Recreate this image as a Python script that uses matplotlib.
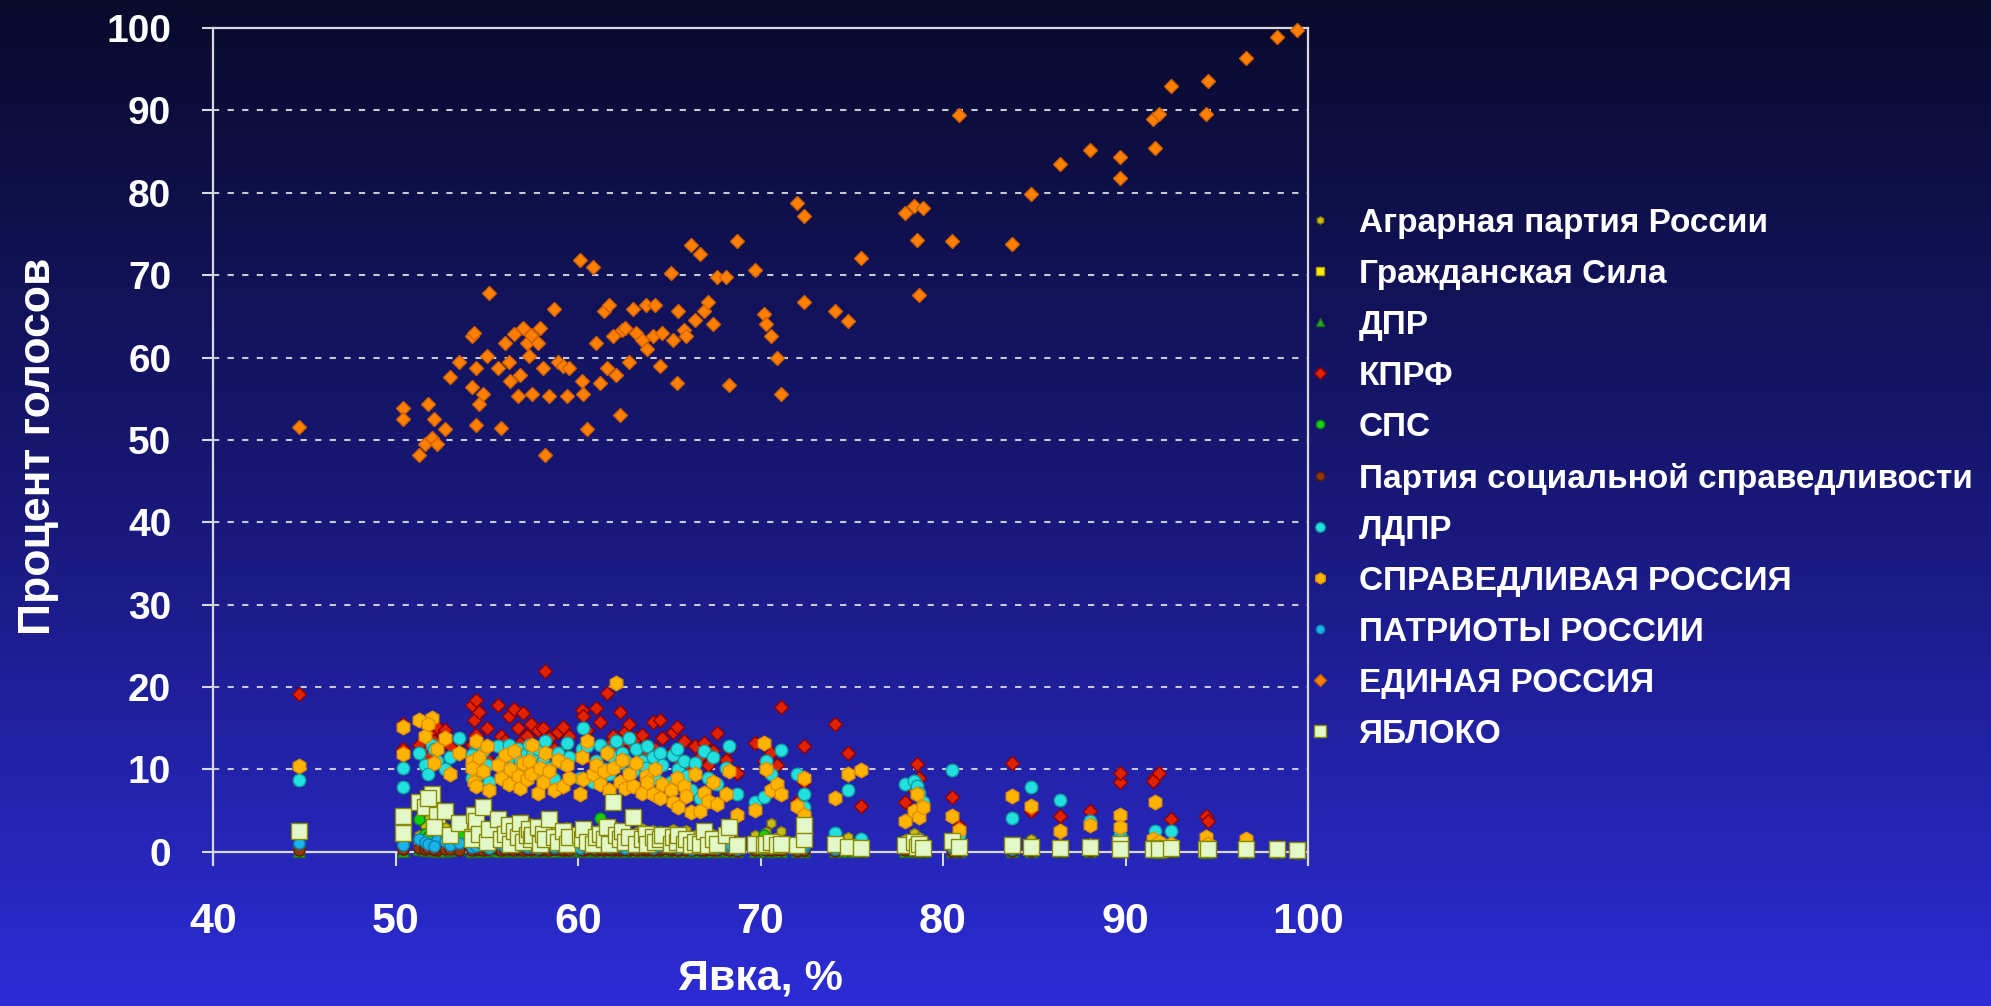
import numpy as np
import matplotlib
matplotlib.use('Agg')
import matplotlib.pyplot as plt
from matplotlib.colors import LinearSegmentedColormap

plt.rcParams['font.family'] = ['Liberation Sans', 'DejaVu Sans']
plt.rcParams['font.weight'] = 'bold'

# явка по регионам, %
turnout = [44.7, 50.4, 50.4, 51.3, 51.6, 52.0, 52.3, 51.8, 52.1, 52.7,
           53.0, 53.5, 54.2, 54.3, 54.4, 54.2, 54.4, 54.6, 54.8, 55.0,
           55.1, 55.6, 55.8, 56.0, 56.2, 56.3, 56.5, 56.7, 56.8, 57.0,
           57.2, 57.3, 57.4, 57.5, 57.8, 57.9, 58.1, 58.2, 58.4, 58.7,
           58.9, 59.2, 59.4, 59.5, 60.1, 60.2, 60.3, 60.5, 60.8, 61.0,
           61.2, 61.4, 61.6, 61.7, 61.9, 62.1, 62.3, 62.4, 62.6, 62.8,
           63.0, 63.2, 63.5, 63.7, 63.8, 64.1, 64.2, 64.5, 64.6, 65.1,
           65.2, 65.4, 65.5, 65.8, 65.9, 66.2, 66.4, 66.7, 66.9, 67.1,
           67.4, 67.6, 68.1, 68.3, 68.7, 69.7, 70.2, 70.3, 70.6, 70.9,
           71.1, 72.0, 72.4, 72.4, 74.1, 74.8, 75.5, 77.9, 78.4, 78.6,
           78.7, 78.9, 80.5, 80.9, 83.8, 84.8, 86.4, 88.05, 89.7, 89.7,
           91.6, 91.5, 91.85, 92.5, 94.4, 94.5, 96.6, 98.3, 99.4]

agrar = [0.5, 2.8, 3.5, 2.0, 3.2, 1.8, 2.5, 4.0, 2.2, 3.0,
         1.5, 2.6, 3.3, 1.8, 2.9, 2.1, 3.6, 1.4, 2.4, 3.1,
         1.9, 2.7, 1.6, 3.4, 2.0, 2.8, 1.5, 3.0, 2.3, 1.7,
         2.9, 2.2, 3.5, 1.8, 2.6, 2.0, 3.2, 1.6, 2.4, 2.9,
         1.8, 2.5, 3.0, 2.1, 1.5, 2.7, 2.0, 3.1, 1.6, 2.3,
         2.8, 1.9, 2.5, 1.4, 2.2, 3.0, 2.0, 1.7, 2.6, 2.1,
         1.8, 2.4, 2.9, 1.5, 2.2, 2.7, 1.9, 2.5, 1.6, 2.0,
         2.8, 1.7, 2.3, 1.5, 2.6, 1.2, 2.1, 1.6, 2.4, 1.8,
         2.2, 1.5, 2.7, 1.9, 1.3, 2.0, 1.6, 2.4, 3.5, 1.8,
         2.5, 1.4, 2.0, 1.6, 2.2, 1.8, 1.2, 1.5, 2.3, 1.1,
         1.8, 1.4, 1.0, 0.8, 1.2, 1.5, 0.9, 1.1, 0.8, 1.6,
         1.2, 0.8, 1.0, 0.6, 0.7, 0.5, 0.4, 0.2, 0.1]

grazhd = [0.4, 0.8, 0.6, 1.0, 0.7, 0.9, 0.5, 1.2, 0.8, 0.6,
          1.1, 0.7, 0.9, 0.5, 0.8, 1.0, 0.6, 0.7, 0.9, 0.5,
          0.8, 0.6, 1.0, 0.7, 0.5, 0.9, 0.6, 0.8, 0.7, 3.9,
          0.6, 0.8, 0.5, 0.9, 0.7, 0.6, 0.6, 0.8, 0.5, 0.7,
          0.9, 0.6, 0.8, 0.5, 0.7, 0.6, 0.9, 0.5, 0.8, 0.6,
          0.7, 0.5, 0.8, 0.6, 0.9, 0.5, 0.7, 0.6, 0.8, 0.5,
          0.6, 0.7, 0.5, 0.8, 0.6, 0.4, 0.7, 0.5, 0.6, 0.4,
          0.5, 0.7, 0.4, 0.6, 0.5, 0.3, 0.6, 0.4, 0.5, 0.4,
          0.6, 0.4, 0.5, 0.7, 0.3, 0.4, 0.5, 0.3, 0.6, 0.4,
          0.5, 0.3, 0.4, 0.5, 0.3, 0.4, 0.2, 0.3, 0.4, 0.3,
          0.3, 0.2, 0.3, 0.2, 0.3, 0.2, 0.2, 0.3, 0.2, 0.2,
          0.2, 0.1, 0.1, 0.2, 0.1, 0.1, 0.1, 0.1, 0.0]

dpr = [0.1, 0.2, 0.1, 0.3, 0.2, 0.2, 0.1, 0.3, 0.2, 0.1,
       0.2, 0.3, 0.1, 0.2, 0.2, 0.1, 0.3, 0.2, 0.1, 0.2,
       0.2, 0.1, 0.3, 0.2, 0.1, 0.2, 0.2, 0.1, 0.3, 0.2,
       0.1, 0.2, 0.2, 0.1, 0.3, 0.2, 0.1, 0.2, 0.2, 0.1,
       0.3, 0.2, 0.1, 0.2, 0.2, 0.1, 0.2, 0.3, 0.1, 0.2,
       0.2, 0.1, 0.2, 0.1, 0.2, 0.2, 0.1, 0.2, 0.1, 0.2,
       0.2, 0.1, 0.2, 0.1, 0.2, 0.1, 0.2, 0.1, 0.2, 0.1,
       0.2, 0.1, 0.1, 0.2, 0.1, 0.1, 0.2, 0.1, 0.1, 0.2,
       0.1, 0.1, 0.2, 0.1, 0.1, 0.1, 0.2, 0.1, 0.1, 0.2,
       0.1, 0.1, 0.1, 0.2, 0.1, 0.1, 0.1, 0.1, 0.2, 0.1,
       0.1, 0.1, 0.1, 0.1, 0.1, 0.1, 0.1, 0.1, 0.1, 0.1,
       0.1, 0.1, 0.0, 0.1, 0.0, 0.1, 0.0, 0.0, 0.0]

kprf = [19.2, 15.5, 12.5, 13.0, 12.0, 14.5, 15.2, 11.5, 13.5, 14.8,
        12.8, 13.5, 17.8, 16.0, 18.4, 13.0, 14.2, 17.0, 12.5, 15.0,
        11.0, 17.8, 14.0, 13.5, 16.5, 12.8, 17.3, 15.0, 13.2, 16.8,
        14.0, 12.0, 15.5, 13.0, 14.8, 11.5, 15.0, 22.0, 13.8, 12.5,
        14.5, 15.2, 13.0, 14.0, 12.0, 17.2, 16.5, 14.8, 11.0, 17.5,
        15.8, 12.5, 19.3, 13.0, 14.0, 12.2, 17.0, 13.5, 14.5, 15.5,
        12.8, 13.8, 14.2, 11.8, 13.0, 15.8, 12.5, 16.0, 13.8, 12.0,
        14.5, 15.2, 11.2, 13.5, 11.0, 10.0, 12.8, 11.5, 13.2, 10.5,
        12.2, 14.4, 11.2, 12.6, 9.6, 13.2, 11.0, 9.8, 12.0, 10.5,
        17.6, 6.1, 8.5, 12.8, 15.5, 12.0, 5.6, 6.0, 7.5, 10.6,
        9.0, 6.0, 6.6, 3.1, 10.8, 5.0, 4.4, 4.9, 8.5, 9.6,
        9.1, 8.6, 9.6, 4.0, 4.4, 3.7, 1.2, 0.6, 0.1]

sps = [0.6, 1.5, 1.0, 4.0, 2.2, 1.4, 3.0, 1.8, 2.5, 1.2,
       1.6, 2.0, 1.1, 2.8, 1.5, 1.0, 2.2, 1.3, 1.8, 0.9,
       1.5, 2.4, 1.2, 1.0, 1.8, 1.4, 2.0, 3.2, 1.1, 1.6,
       0.9, 1.3, 1.7, 1.0, 2.1, 1.2, 0.8, 1.5, 1.1, 1.9,
       1.0, 1.4, 0.8, 1.6, 1.2, 0.9, 1.3, 1.0, 0.8, 1.5,
       4.1, 1.1, 0.9, 1.4, 1.0, 1.2, 0.8, 1.3, 1.0, 0.9,
       1.2, 0.8, 1.1, 0.9, 1.0, 0.7, 1.2, 0.8, 1.0, 0.7,
       0.9, 1.1, 0.7, 0.8, 1.0, 0.6, 0.9, 0.7, 0.8, 0.6,
       0.9, 0.7, 0.8, 1.0, 0.5, 0.7, 2.0, 0.8, 0.6, 0.7,
       0.8, 0.5, 0.7, 0.9, 0.5, 0.6, 0.4, 0.6, 0.7, 0.5,
       0.6, 0.4, 0.5, 0.3, 0.5, 0.4, 0.3, 0.4, 0.3, 0.4,
       0.3, 0.2, 0.2, 0.3, 0.2, 0.2, 0.1, 0.1, 0.0]

pss = [0.2, 0.4, 0.3, 0.5, 0.3, 0.4, 0.2, 0.5, 0.3, 0.4,
       0.3, 0.2, 0.4, 0.3, 0.5, 0.2, 0.3, 0.4, 0.2, 0.3,
       0.4, 0.3, 0.2, 0.4, 0.3, 0.5, 0.2, 0.3, 0.4, 0.2,
       0.3, 0.4, 0.2, 0.3, 0.5, 0.2, 0.3, 0.4, 0.2, 0.3,
       0.4, 0.2, 0.3, 0.2, 0.4, 0.3, 0.2, 0.3, 0.4, 0.2,
       0.3, 0.2, 0.4, 0.3, 0.2, 0.3, 0.2, 0.4, 0.3, 0.2,
       0.3, 0.2, 0.3, 0.2, 0.4, 0.2, 0.3, 0.2, 0.3, 0.2,
       0.3, 0.2, 0.2, 0.3, 0.2, 0.2, 0.3, 0.2, 0.2, 0.3,
       0.2, 0.2, 0.3, 0.2, 0.1, 0.2, 0.3, 0.2, 0.2, 0.3,
       0.2, 0.1, 0.2, 0.2, 0.1, 0.2, 0.1, 0.2, 0.2, 0.1,
       0.2, 0.1, 0.1, 0.1, 0.1, 0.1, 0.1, 0.1, 0.1, 0.1,
       0.1, 0.1, 0.1, 0.1, 0.1, 0.1, 0.0, 0.0, 0.0]

ldpr = [8.7, 10.2, 7.9, 12.0, 10.5, 13.0, 11.0, 9.5, 12.5, 10.0,
        11.5, 13.8, 9.0, 12.0, 10.8, 11.8, 13.2, 9.5, 12.2, 10.5,
        8.5, 12.8, 11.0, 9.8, 13.0, 11.5, 10.0, 12.5, 11.2, 9.2,
        12.0, 13.0, 10.5, 11.8, 12.5, 9.5, 11.0, 13.5, 10.2, 8.8,
        12.0, 10.8, 13.2, 11.5, 9.0, 12.5, 15.0, 12.8, 8.5, 11.0,
        13.0, 10.0, 12.2, 9.5, 11.5, 13.5, 10.8, 12.0, 11.2, 13.8,
        9.8, 12.5, 11.0, 10.2, 12.8, 11.5, 9.0, 12.0, 10.5, 8.5,
        11.8, 12.5, 10.0, 11.0, 9.2, 7.5, 10.8, 6.5, 12.2, 9.0,
        11.5, 8.2, 10.2, 12.8, 7.0, 6.1, 6.7, 11.0, 9.5, 7.8,
        12.3, 9.5, 7.0, 5.5, 2.3, 7.5, 1.6, 8.2, 8.6, 8.0,
        7.2, 6.0, 9.9, 2.0, 4.1, 7.9, 6.3, 3.8, 2.0, 1.5,
        2.5, 1.2, 0.8, 2.5, 0.8, 0.6, 0.5, 0.2, 0.1]

sr = [10.4, 15.2, 11.9, 16.0, 14.0, 16.2, 12.5, 15.5, 10.8, 13.8,
      9.5, 12.0, 11.0, 8.5, 13.5, 10.2, 8.0, 11.5, 9.8, 12.8,
      7.5, 10.5, 9.0, 11.8, 8.2, 10.0, 12.2, 9.2, 7.8, 10.8,
      8.8, 11.0, 9.5, 13.0, 7.2, 10.2, 8.5, 12.0, 9.8, 7.5,
      11.2, 8.0, 10.5, 9.0, 7.0, 11.5, 8.8, 13.5, 9.5, 10.5,
      8.2, 9.8, 12.0, 7.5, 10.2, 20.5, 8.5, 11.2, 7.8, 9.5,
      8.0, 10.8, 7.2, 9.2, 8.5, 7.0, 10.0, 6.5, 8.2, 7.5,
      6.0, 9.0, 5.5, 8.0, 6.8, 4.8, 9.5, 5.0, 7.2, 6.2,
      8.5, 5.8, 7.0, 9.8, 4.5, 5.1, 13.2, 10.0, 7.5, 8.2,
      7.0, 5.6, 4.5, 9.0, 6.5, 9.5, 9.9, 3.8, 5.0, 7.0,
      4.2, 5.5, 4.4, 2.6, 6.8, 5.6, 2.5, 3.3, 4.5, 3.0,
      6.0, 1.5, 1.2, 1.0, 1.8, 1.0, 1.5, 0.4, 0.1]

patriots = [1.1, 1.1, 0.8, 1.5, 1.2, 0.9, 1.4, 1.0, 0.7, 1.3,
            0.8, 1.1, 0.6, 1.0, 0.9, 1.3, 0.7, 1.2, 0.8, 1.0,
            0.5, 1.1, 0.9, 0.6, 1.2, 0.8, 1.0, 0.7, 1.3, 0.9,
            0.6, 1.1, 0.8, 1.0, 0.5, 0.9, 1.2, 0.7, 1.0, 0.6,
            0.8, 1.1, 0.9, 0.7, 0.5, 1.0, 0.8, 1.2, 0.6, 0.9,
            0.7, 1.0, 0.8, 0.6, 1.1, 0.9, 0.7, 1.0, 0.5, 0.8,
            0.9, 0.6, 1.0, 0.7, 0.8, 0.5, 0.9, 0.7, 1.0, 0.6,
            0.8, 0.7, 0.5, 0.9, 0.6, 0.4, 0.8, 0.5, 0.7, 0.6,
            0.8, 0.5, 0.7, 0.9, 0.4, 0.6, 0.5, 0.8, 0.6, 0.7,
            0.9, 0.5, 0.6, 0.8, 0.4, 0.5, 0.3, 0.6, 0.5, 0.7,
            0.4, 0.5, 0.6, 0.3, 0.4, 0.5, 0.3, 0.4, 0.3, 0.2,
            0.3, 0.2, 0.2, 0.3, 0.2, 0.2, 0.1, 0.1, 0.1]

er = [51.6, 53.9, 52.5, 48.2, 49.5, 50.2, 49.5, 54.4, 52.5, 51.3,
      57.6, 59.5, 62.6, 63.0, 58.7, 56.4, 51.8, 54.4, 55.6, 60.2,
      67.8, 58.7, 51.5, 61.8, 59.5, 57.2, 62.9, 55.3, 57.9, 63.6,
      61.8, 60.2, 62.7, 55.6, 61.8, 63.6, 58.7, 48.2, 55.3, 65.9,
      59.5, 59.0, 55.3, 58.7, 71.8, 57.2, 55.6, 51.3, 71.0, 61.8,
      56.9, 65.6, 58.7, 66.4, 62.6, 57.9, 53.0, 63.3, 63.6, 59.5,
      65.9, 63.0, 62.1, 66.4, 61.0, 62.6, 66.4, 59.0, 63.0, 70.3,
      62.1, 56.9, 65.6, 63.3, 62.6, 73.7, 64.6, 72.6, 65.6, 66.7,
      64.1, 69.8, 69.8, 56.7, 74.1, 70.6, 65.3, 64.1, 62.6, 59.9,
      55.6, 78.7, 77.2, 66.7, 65.6, 64.4, 72.1, 77.5, 78.4, 74.3,
      67.6, 78.1, 74.1, 89.5, 73.8, 79.9, 83.5, 85.2, 84.3, 81.8,
      85.4, 89.0, 89.6, 93.0, 89.6, 93.6, 96.3, 98.9, 99.8]

yabloko = [2.5, 4.3, 2.3, 6.0, 5.5, 7.0, 4.5, 6.5, 3.0, 5.0,
           2.0, 3.5, 1.8, 4.5, 2.5, 1.5, 3.8, 2.2, 5.5, 1.2,
           2.8, 4.0, 1.5, 2.2, 3.2, 1.0, 2.5, 1.8, 3.5, 1.2,
           2.0, 2.8, 1.5, 2.0, 3.0, 1.0, 2.2, 1.5, 4.0, 1.8,
           1.2, 2.5, 1.0, 1.8, 2.0, 1.5, 2.8, 1.2, 1.0, 1.8,
           2.2, 1.5, 3.0, 1.0, 6.0, 2.0, 1.5, 2.5, 1.2, 1.8,
           4.2, 1.0, 1.5, 2.2, 1.0, 1.8, 1.2, 1.5, 2.0, 1.0,
           1.8, 1.2, 2.0, 1.0, 1.5, 0.8, 1.2, 1.0, 2.5, 0.8,
           1.5, 1.0, 2.0, 3.0, 0.8, 1.0, 0.8, 1.0, 1.2, 0.8,
           1.0, 0.8, 1.5, 3.2, 1.0, 0.6, 0.5, 0.8, 1.2, 0.6,
           1.0, 0.5, 1.3, 0.6, 0.8, 0.6, 0.5, 0.6, 1.0, 0.4,
           0.5, 0.4, 0.3, 0.5, 0.4, 0.3, 0.4, 0.3, 0.2]

# (подпись, значения, маркер, заливка, обводка, размер)
series = [
    ('Аграрная партия России', agrar, 'h', '#c8bc10', '#8a8000', 7),
    ('Гражданская Сила', grazhd, 's', '#ffee10', '#b0a000', 7),
    ('ДПР', dpr, '^', '#22b022', '#207020', 8),
    ('КПРФ', kprf, 'D', '#e02200', '#900000', 7.5),
    ('СПС', sps, 'o', '#10d010', '#108010', 8),
    ('Партия социальной справедливости', pss, 'o', '#8b3a10', '#602000', 8),
    ('ЛДПР', ldpr, 'o', '#22e0e0', '#10a0a0', 9),
    ('СПРАВЕДЛИВАЯ РОССИЯ', sr, 'h', '#ffb400', '#e09000', 10.5),
    ('ПАТРИОТЫ РОССИИ', patriots, 'o', '#1ab4ec', '#1080b0', 8),
    ('ЕДИНАЯ РОССИЯ', er, 'D', '#ff7f00', '#d06000', 7.5),
    ('ЯБЛОКО', yabloko, 's', '#e2f8c8', '#8a8a00', 11),
]

W, H = 1991, 1006
fig = plt.figure(figsize=(W / 100, H / 100), dpi=100)

# фон: вертикальный градиент
bg = fig.add_axes([0, 0, 1, 1], zorder=-10)
cmap = LinearSegmentedColormap.from_list('bg', ['#0a0a2c', '#181878', '#2c2cd6'])
bg.imshow(np.linspace(0, 1, 256).reshape(-1, 1), cmap=cmap, aspect='auto',
          extent=[0, 1, 0, 1], origin='upper')
bg.axis('off')

left, right = 213 / W, 1308 / W
top, bottom = 1 - 28 / H, 1 - 865 / H
ax = fig.add_axes([left, bottom, right - left, top - bottom])
ax.set_facecolor('none')

handles = []
for label, vals, mk, fc, ec, ms in series:
    h, = ax.plot(turnout, vals, linestyle='none', marker=mk, markersize=ms,
                 markerfacecolor=fc, markeredgecolor=ec, markeredgewidth=1.0,
                 label=label, clip_on=False, zorder=3)
    handles.append(h)

ax.set_xlim(40, 100)
ax.set_ylim(-1.6, 100)
ax.set_xticks(range(40, 101, 10))
ax.set_yticks(range(0, 101, 10))

for y in range(10, 100, 10):
    ax.axhline(y, color='#c8c8d0', lw=1.5, ls=(0, (3, 4)), zorder=1)

spine_c = '#d8d8e0'
ax.spines['bottom'].set_position(('data', 0))
for s in ax.spines.values():
    s.set_color(spine_c)
    s.set_linewidth(1.6)
    s.set_zorder(2)

ax.tick_params(axis='x', direction='out', length=10, width=1.5, color=spine_c,
               labelsize=31, labelcolor='white', pad=26)
ax.tick_params(axis='y', direction='out', length=8, width=1.5, color=spine_c,
               labelsize=28, labelcolor='white', pad=22)
for lab in ax.get_xticklabels() + ax.get_yticklabels():
    lab.set_fontweight('bold')

ax.set_xlabel('Явка, %', color='white', fontsize=31, fontweight='bold', labelpad=12)
ax.set_ylabel('Процент голосов', color='white', fontsize=32, fontweight='bold', labelpad=34)

leg = fig.legend(handles=handles, loc='upper left', bbox_to_anchor=(1312 / W, 1 - 208 / H),
                 frameon=False, fontsize=24, markerscale=0.75, handlelength=0.5,
                 handletextpad=0.9, labelspacing=0.6, borderpad=0, borderaxespad=0)
for t in leg.get_texts():
    t.set_color('white')
    t.set_fontweight('bold')

fig.savefig('out.png', dpi=100)
